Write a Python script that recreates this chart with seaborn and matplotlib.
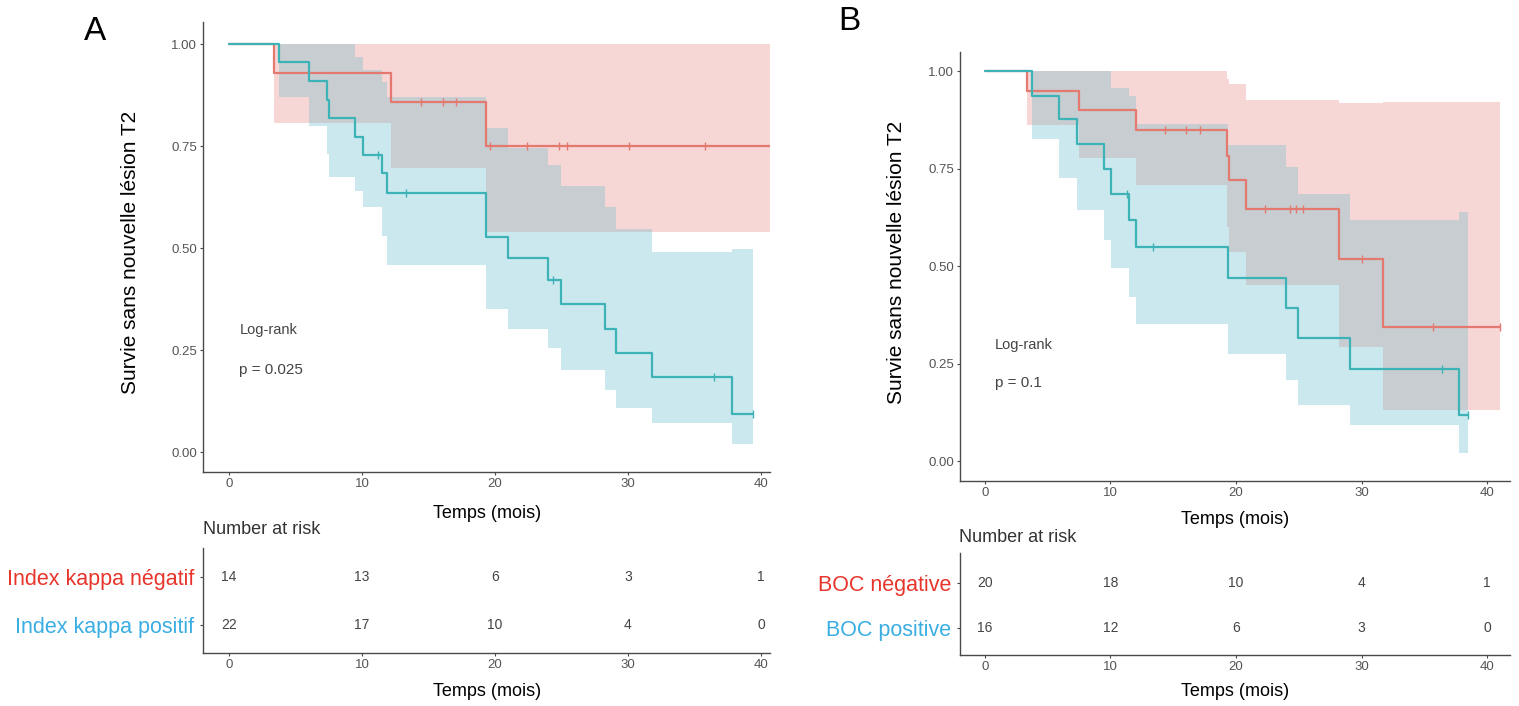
import numpy as np
import matplotlib
matplotlib.use("Agg")
import matplotlib.pyplot as plt
import seaborn as sns

# ---------------- Data ----------------
# Panel A : Index kappa
a_neg_time = [0, 3.35, 12.15, 19.3]
a_neg_surv = [1.0, 0.929, 0.857, 0.75]
a_neg_lower = [1.0, 0.806, 0.695, 0.54]
a_neg_upper = [1.0, 1.0, 1.0, 1.0]
a_neg_censor = [14.4, 16.1, 17.1, 19.6, 22.4, 24.8, 25.4, 30.1, 35.8]
a_neg_end = 40.7

a_pos_time = [0, 3.77, 6.0, 7.35, 7.5, 9.44, 10.06, 11.48, 11.86, 19.35, 20.95,
              23.97, 25.0, 28.3, 29.1, 31.8, 37.8]
a_pos_surv = [1.0, 0.955, 0.910, 0.864, 0.818, 0.773, 0.728, 0.683, 0.634, 0.526,
              0.475, 0.421, 0.364, 0.302, 0.243, 0.183, 0.093]
a_pos_lower = [1.0, 0.871, 0.799, 0.73, 0.675, 0.64, 0.60, 0.53, 0.458, 0.350,
               0.301, 0.254, 0.201, 0.152, 0.109, 0.070, 0.02]
a_pos_upper = [1.0, 1.0, 1.0, 1.0, 1.0, 0.969, 0.936, 0.908, 0.871, 0.793,
               0.744, 0.703, 0.653, 0.601, 0.546, 0.491, 0.497]
a_pos_censor = [11.2, 13.3, 24.4, 36.5, 39.4]
a_pos_end = 39.4

a_risk_neg = [14, 13, 6, 3, 1]
a_risk_pos = [22, 17, 10, 4, 0]
a_labels = ["Index kappa négatif", "Index kappa positif"]
a_pvalue = "p = 0.025"

# Panel B : BOC
b_neg_time = [0, 3.35, 7.53, 12.07, 19.26, 19.46, 20.8, 28.2, 31.7]
b_neg_surv = [1.0, 0.949, 0.90, 0.849, 0.782, 0.72, 0.646, 0.517, 0.344]
b_neg_lower = [1.0, 0.862, 0.776, 0.708, 0.60, 0.537, 0.451, 0.293, 0.131]
b_neg_upper = [1.0, 1.0, 1.0, 1.0, 0.98, 0.968, 0.926, 0.917, 0.92]
b_neg_censor = [14.35, 16.05, 17.13, 22.3, 24.3, 24.8, 25.3, 30.0, 35.7, 41.0]
b_neg_end = 41.0

b_pos_time = [0, 3.78, 5.9, 7.33, 9.46, 10.03, 11.5, 12.0, 19.4, 23.95, 24.94, 29.06, 37.8]
b_pos_surv = [1.0, 0.937, 0.876, 0.812, 0.750, 0.686, 0.618, 0.549, 0.470, 0.393,
              0.315, 0.236, 0.118]
b_pos_lower = [1.0, 0.827, 0.725, 0.644, 0.567, 0.494, 0.421, 0.351, 0.274, 0.208,
               0.144, 0.092, 0.022]
b_pos_upper = [1.0, 1.0, 1.0, 1.0, 1.0, 0.956, 0.936, 0.864, 0.81, 0.755, 0.686,
               0.618, 0.638]
b_pos_censor = [11.3, 13.35, 36.4, 38.5]
b_pos_end = 38.5

b_risk_neg = [20, 18, 10, 4, 1]
b_risk_pos = [16, 12, 6, 3, 0]
b_labels = ["BOC négative", "BOC positive"]
b_pvalue = "p = 0.1"

risk_times = [0, 10, 20, 30, 40]
y_ticks = [0.0, 0.25, 0.50, 0.75, 1.00]
y_ticklabels = ["0.00", "0.25", "0.50", "0.75", "1.00"]
x_ticks = [0, 10, 20, 30, 40]

# ---------------- Style ----------------
sns.set_theme(style="white")
plt.rcParams["font.family"] = ["Liberation Sans", "DejaVu Sans"]

RED_LINE = "#E3796F"
TEAL_LINE = "#3DB3B8"
PINK_BAND = "#F7D6D6"
BLUE_BAND = "#CAE8ED"
GREY_BAND = "#C7CDD0"
RED_LABEL = "#E8352B"
BLUE_LABEL = "#3AAEE2"
SPINE = "#4A4A4A"
TICKTXT = "#555555"

W, H = 1519, 706
fig = plt.figure(figsize=(W / 100, H / 100), dpi=100)


def px_axes(l, t, r, b):
    return fig.add_axes([l / W, 1 - b / H, (r - l) / W, (b - t) / H])


def step_eval(times, vals, end, grid):
    times = np.asarray(times, float)
    vals = np.asarray(vals, float)
    idx = np.searchsorted(times, grid, side="right") - 1
    idx = np.clip(idx, 0, len(vals) - 1)
    out = vals[idx]
    return out, np.asarray(grid) < end


def style_axes(ax):
    sns.despine(ax=ax)
    for s in ["left", "bottom"]:
        ax.spines[s].set_color(SPINE)
        ax.spines[s].set_linewidth(1.0)
    ax.tick_params(axis="both", which="both", length=2.5, width=0.8, color=SPINE,
                   labelsize=9.5, labelcolor=TICKTXT, pad=2, left=True, bottom=True)
    ax.grid(False)


def km_panel(ax, neg, pos, xlim, ylim, lr_xy, pval):
    groups = [(neg, PINK_BAND, RED_LINE), (pos, BLUE_BAND, TEAL_LINE)]
    for (t, s, lo, hi, cens, end), band, _ in groups:
        tx = list(t) + [end]
        ax.fill_between(tx, list(lo) + [lo[-1]], list(hi) + [hi[-1]],
                        step="post", color=band, linewidth=0, zorder=1)
    # overlap of the two confidence bands
    grid = np.array(sorted(set(list(neg[0]) + list(pos[0]) + [neg[5], pos[5]])))
    lo_n, ok_n = step_eval(neg[0], neg[2], neg[5], grid)
    hi_n, _ = step_eval(neg[0], neg[3], neg[5], grid)
    lo_p, ok_p = step_eval(pos[0], pos[2], pos[5], grid)
    hi_p, _ = step_eval(pos[0], pos[3], pos[5], grid)
    olo = np.maximum(lo_n, lo_p)
    ohi = np.minimum(hi_n, hi_p)
    ohi = np.maximum(ohi, olo)
    valid = ok_n & ok_p
    olo = np.where(valid, olo, 0.0)
    ohi = np.where(valid, ohi, 0.0)
    ax.fill_between(grid, olo, ohi, step="post", color=GREY_BAND, linewidth=0, zorder=2)

    for (t, s, lo, hi, cens, end), _, lc in groups:
        tx = list(t) + [end]
        sy = list(s) + [s[-1]]
        sns.lineplot(x=tx, y=sy, ax=ax, drawstyle="steps-post", color=lc,
                     linewidth=1.6, estimator=None, sort=False, zorder=4)
        cy, _ = step_eval(t, s, end + 1, cens)
        sns.scatterplot(x=cens, y=cy, ax=ax, marker="|", s=40, color=lc,
                        linewidth=1.0, zorder=5)

    ax.set_xlim(*xlim)
    ax.set_ylim(*ylim)
    ax.set_xticks(x_ticks)
    ax.set_xticklabels([str(v) for v in x_ticks])
    ax.set_yticks(y_ticks)
    ax.set_yticklabels(y_ticklabels)
    ax.set_xlabel("")
    ax.set_ylabel("")
    style_axes(ax)
    ax.text(lr_xy[0], lr_xy[1], "Log-rank", fontsize=10.5, color="#444444",
            ha="left", va="center")
    ax.text(lr_xy[0], lr_xy[2], pval, fontsize=11, color="#444444",
            ha="left", va="center")


def risk_table(ax, neg_counts, pos_counts, labels, xlim, ylim):
    for row, counts in [(1, neg_counts), (0, pos_counts)]:
        for tt, n in zip(risk_times, counts):
            ax.text(tt, row, str(n), ha="center", va="center", fontsize=10,
                    color="#444444")
    ax.set_xlim(*xlim)
    ax.set_ylim(*ylim)
    ax.set_xticks(x_ticks)
    ax.set_xticklabels([str(v) for v in x_ticks])
    ax.set_yticks([1, 0])
    ax.set_yticklabels(labels)
    style_axes(ax)
    ax.tick_params(axis="y", labelsize=15.5, pad=4)
    ylab = ax.get_yticklabels()
    ylab[0].set_color(RED_LABEL)
    ylab[1].set_color(BLUE_LABEL)


# ---------------- Panel A ----------------
axA = px_axes(203, 22, 770, 472)
km_panel(axA,
         (a_neg_time, a_neg_surv, a_neg_lower, a_neg_upper, a_neg_censor, a_neg_end),
         (a_pos_time, a_pos_surv, a_pos_lower, a_pos_upper, a_pos_censor, a_pos_end),
         xlim=(-1.955, 40.68), ylim=(-0.049, 1.054),
         lr_xy=(0.78, 0.299, 0.201), pval=a_pvalue)

tabA = px_axes(203, 548, 770, 653)
risk_table(tabA, a_risk_neg, a_risk_pos, a_labels,
           xlim=(-1.955, 40.68), ylim=(-0.584, 1.604))

# ---------------- Panel B ----------------
axB = px_axes(960, 52, 1510, 481)
km_panel(axB,
         (b_neg_time, b_neg_surv, b_neg_lower, b_neg_upper, b_neg_censor, b_neg_end),
         (b_pos_time, b_pos_surv, b_pos_lower, b_pos_upper, b_pos_censor, b_pos_end),
         xlim=(-1.99, 41.83), ylim=(-0.051, 1.049),
         lr_xy=(0.8, 0.297, 0.2), pval=b_pvalue)

tabB = px_axes(960, 553, 1510, 655)
risk_table(tabB, b_risk_neg, b_risk_pos, b_labels,
           xlim=(-1.99, 41.83), ylim=(-0.601, 1.667))


# ---------------- Figure texts ----------------
def ftext(x, y, s, **kw):
    fig.text(x / W, 1 - y / H, s, **kw)


ftext(95, 31, "A", fontsize=24, ha="center", va="center", color="black")
ftext(849, 22, "B", fontsize=24, ha="center", va="center", color="black")

ylab = "Survie sans nouvelle lésion T2"
ftext(131, 252, ylab, fontsize=15, rotation=90, ha="center", va="center", color="black")
ftext(897, 262, ylab, fontsize=15, rotation=90, ha="center", va="center", color="black")

ftext(487, 513, "Temps (mois)", fontsize=13, ha="center", va="center", color="black")
ftext(1235, 520, "Temps (mois)", fontsize=13, ha="center", va="center", color="black")
ftext(487, 692, "Temps (mois)", fontsize=13, ha="center", va="center", color="black")
ftext(1235, 692, "Temps (mois)", fontsize=13, ha="center", va="center", color="black")

ftext(203, 530, "Number at risk", fontsize=13, ha="left", va="center", color="#333333")
ftext(959, 538, "Number at risk", fontsize=13, ha="left", va="center", color="#333333")

fig.savefig("out.png", dpi=100)
